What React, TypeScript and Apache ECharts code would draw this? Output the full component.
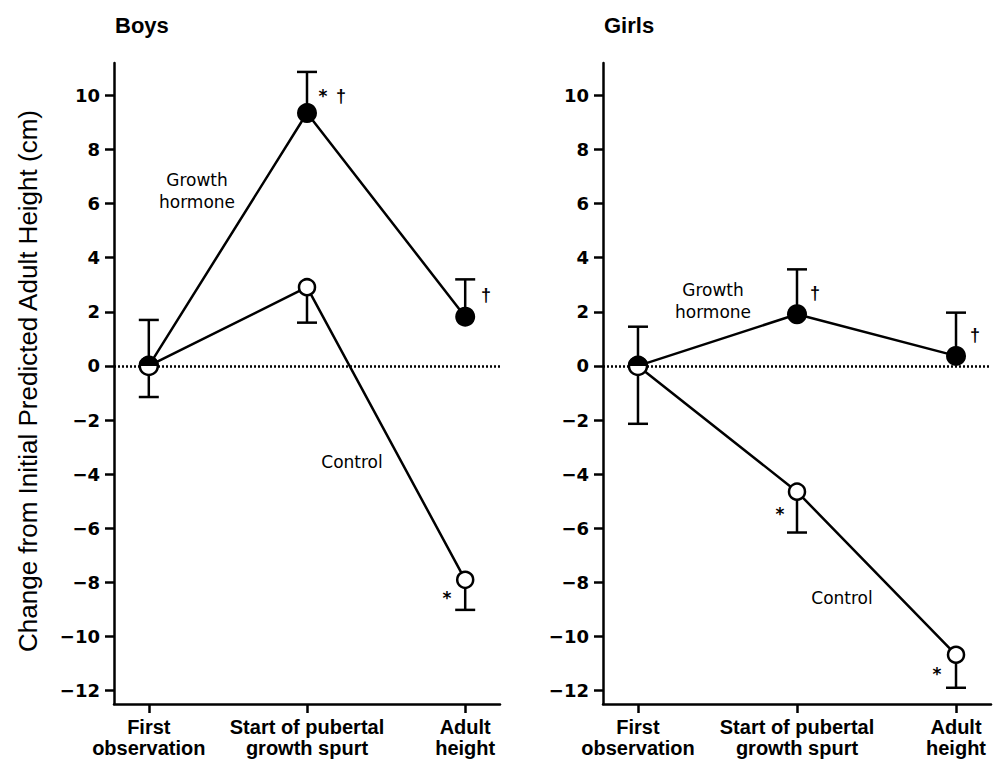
import React, { useEffect, useRef } from "react";
import * as echarts from "echarts";

const categories = ["First\nobservation", "Start of pubertal\ngrowth spurt", "Adult\nheight"];
const xPositions = [0, 1, 2];
const yTicks = [-12, -10, -8, -6, -4, -2, 0, 2, 4, 6, 8, 10];

const boysGrowthHormone = [0, 9.35, 1.82];
const boysControl = [0, 2.91, -7.91];
const girlsGrowthHormone = [0, 1.91, 0.37];
const girlsControl = [0, -4.65, -10.68];

// [x, from (mean), to (end of bar)]
const boysErrorBars = [
  [0, 0, 1.7],
  [0, 0, -1.15],
  [1, 9.35, 10.87],
  [1, 2.91, 1.6],
  [2, 1.82, 3.2],
  [2, -7.91, -9.02],
];
const girlsErrorBars = [
  [0, 0, 1.45],
  [0, 0, -2.14],
  [1, 1.91, 3.57],
  [1, -4.65, -6.16],
  [2, 0.37, 1.97],
  [2, -10.68, -11.9],
];

const panelTitles = ["Boys", "Girls"];
const yAxisTitle = "Change from Initial Predicted Adult Height (cm)";

const LW = 2.5;
const TICK_FONT = "DejaVu Sans";
const ARIAL = "Liberation Sans";

function errorBarRender(params: any, api: any) {
  const x = api.value(0);
  const from = api.value(1);
  const to = api.value(2);
  const p1 = api.coord([x, from]);
  const p2 = api.coord([x, to]);
  return {
    type: "group",
    children: [
      { type: "line", shape: { x1: p1[0], y1: p1[1], x2: p2[0], y2: p2[1] }, style: { stroke: "#000", lineWidth: LW } },
      { type: "line", shape: { x1: p2[0] - 10, y1: p2[1], x2: p2[0] + 10, y2: p2[1] }, style: { stroke: "#000", lineWidth: LW } },
    ],
  };
}

function halfMarkerRender(params: any, api: any) {
  const p = api.coord([api.value(0), api.value(1)]);
  const r = 9;
  return {
    type: "group",
    children: [
      { type: "circle", shape: { cx: p[0], cy: p[1], r }, style: { fill: "#fff", stroke: "#000", lineWidth: LW } },
      { type: "sector", shape: { cx: p[0], cy: p[1], r0: 0, r: r + 1, startAngle: Math.PI, endAngle: Math.PI * 2, clockwise: true }, style: { fill: "#000" } },
    ],
  };
}

function lineData(vals: number[]) {
  return xPositions.map((x, i) => (i === 0 ? { value: [x, vals[i]], symbol: "none" } : [x, vals[i]]));
}

function buildOption() {
  const grids = [
    { left: 114, top: 63, width: 386, height: 641, outerBoundsMode: "none", containLabel: false },
    { left: 603, top: 63, width: 388, height: 641, outerBoundsMode: "none", containLabel: false },
  ];
  const xAxes = grids.map((_, gi) => ({
    type: "value",
    gridIndex: gi,
    min: -0.22,
    max: 2.22,
    position: "bottom",
    axisLine: { show: true, onZero: false, lineStyle: { color: "#000", width: LW } },
    axisTick: { show: true, inside: false, length: 9, customValues: xPositions, lineStyle: { color: "#000", width: LW } },
    axisLabel: {
      show: true,
      customValues: xPositions,
      margin: 12,
      formatter: (v: number) => categories[Math.round(v)] ?? "",
      color: "#000",
      fontFamily: ARIAL,
      fontWeight: "bold",
      fontSize: 20,
      lineHeight: 21,
      align: "center",
      verticalAlign: "top",
    },
    splitLine: { show: false },
  }));
  const yAxes = grids.map((_, gi) => ({
    type: "value",
    gridIndex: gi,
    min: -12.5,
    max: 11.2,
    axisLine: { show: true, onZero: false, lineStyle: { color: "#000", width: LW } },
    axisTick: { show: true, inside: false, length: 9, customValues: yTicks, lineStyle: { color: "#000", width: LW } },
    axisLabel: {
      show: true,
      customValues: yTicks,
      margin: 14,
      formatter: (v: number) => (v < 0 ? "\u2212" + Math.abs(v) : String(v)),
      color: "#000",
      fontFamily: TICK_FONT,
      fontWeight: "bold",
      fontSize: 18,
    },
    splitLine: { show: false },
  }));

  const panels = [
    { gh: boysGrowthHormone, ctrl: boysControl, err: boysErrorBars },
    { gh: girlsGrowthHormone, ctrl: girlsControl, err: girlsErrorBars },
  ];
  const series: any[] = [];
  panels.forEach((p, gi) => {
    series.push({
      type: "custom",
      xAxisIndex: gi,
      yAxisIndex: gi,
      data: p.err,
      encode: { x: 0, y: [1, 2] },
      renderItem: errorBarRender,
      z: 2,
      silent: true,
    });
    series.push({
      type: "line",
      xAxisIndex: gi,
      yAxisIndex: gi,
      data: lineData(p.gh),
      symbol: "circle",
      symbolSize: 20,
      showAllSymbol: true,
      lineStyle: { color: "#000", width: LW },
      itemStyle: { color: "#000", borderColor: "#000", borderWidth: 0 },
      z: 3,
      silent: true,
    });
    series.push({
      type: "line",
      xAxisIndex: gi,
      yAxisIndex: gi,
      data: lineData(p.ctrl),
      symbol: "circle",
      symbolSize: 16,
      showAllSymbol: true,
      lineStyle: { color: "#000", width: LW },
      itemStyle: { color: "#fff", borderColor: "#000", borderWidth: LW },
      z: 4,
      silent: true,
      markLine: {
        silent: true,
        symbol: "none",
        label: { show: false },
        lineStyle: { color: "#000", width: 2.5, type: [2, 2] },
        data: [{ yAxis: 0 }],
        z: 5,
      },
    });
    series.push({
      type: "custom",
      xAxisIndex: gi,
      yAxisIndex: gi,
      data: [[xPositions[0], p.gh[0]]],
      encode: { x: 0, y: 1 },
      renderItem: halfMarkerRender,
      z: 6,
      silent: true,
    });
  });

  const annFont = { fontFamily: TICK_FONT, fontSize: 17, fill: "#000" };
  const symFont = { fontFamily: TICK_FONT, fontSize: 17, fontWeight: "bold", fill: "#000" };
  const dagFont = { fontFamily: ARIAL, fontSize: 18, fontWeight: "bold", fill: "#000" };
  const graphic: any[] = [
    { type: "text", x: 115, y: 25, style: { text: panelTitles[0], fontFamily: ARIAL, fontWeight: "bold", fontSize: 22, fill: "#000", verticalAlign: "middle" } },
    { type: "text", x: 604, y: 25, style: { text: panelTitles[1], fontFamily: ARIAL, fontWeight: "bold", fontSize: 22, fill: "#000", verticalAlign: "middle" } },
    { type: "text", x: 28, y: 381, rotation: Math.PI / 2, style: { text: yAxisTitle, fontFamily: ARIAL, fontSize: 26, fill: "#000", align: "center", verticalAlign: "middle" } },
    { type: "text", x: 197, y: 191, style: { ...annFont, text: "Growth\nhormone", lineHeight: 22, align: "center", verticalAlign: "middle" } },
    { type: "text", x: 352, y: 462, style: { ...annFont, text: "Control", align: "center", verticalAlign: "middle" } },
    { type: "text", x: 713, y: 301, style: { ...annFont, text: "Growth\nhormone", lineHeight: 22, align: "center", verticalAlign: "middle" } },
    { type: "text", x: 842, y: 598, style: { ...annFont, text: "Control", align: "center", verticalAlign: "middle" } },
    { type: "text", x: 323, y: 96, style: { ...symFont, text: "*", align: "center", verticalAlign: "middle" } },
    { type: "text", x: 341, y: 96, style: { ...dagFont, text: "\u2020", align: "center", verticalAlign: "middle" } },
    { type: "text", x: 486, y: 295, style: { ...dagFont, text: "\u2020", align: "center", verticalAlign: "middle" } },
    { type: "text", x: 447, y: 598, style: { ...symFont, text: "*", align: "center", verticalAlign: "middle" } },
    { type: "text", x: 815, y: 293, style: { ...dagFont, text: "\u2020", align: "center", verticalAlign: "middle" } },
    { type: "text", x: 975, y: 335, style: { ...dagFont, text: "\u2020", align: "center", verticalAlign: "middle" } },
    { type: "text", x: 780, y: 514, style: { ...symFont, text: "*", align: "center", verticalAlign: "middle" } },
    { type: "text", x: 937, y: 674, style: { ...symFont, text: "*", align: "center", verticalAlign: "middle" } },
  ];

  return {
    animation: false,
    backgroundColor: "#fff",
    grid: grids,
    xAxis: xAxes,
    yAxis: yAxes,
    series,
    graphic,
  };
}

export default function App() {
  const ref = useRef<HTMLDivElement>(null);
  useEffect(() => {
    if (!ref.current) return;
    const chart = echarts.init(ref.current, undefined, { renderer: "svg" });
    chart.setOption(buildOption() as any);
    return () => chart.dispose();
  }, []);
  return (
    <div
      ref={ref}
      style={{ position: "fixed", left: 0, top: 0, width: 1000, height: 761, background: "#fff" }}
    />
  );
}
